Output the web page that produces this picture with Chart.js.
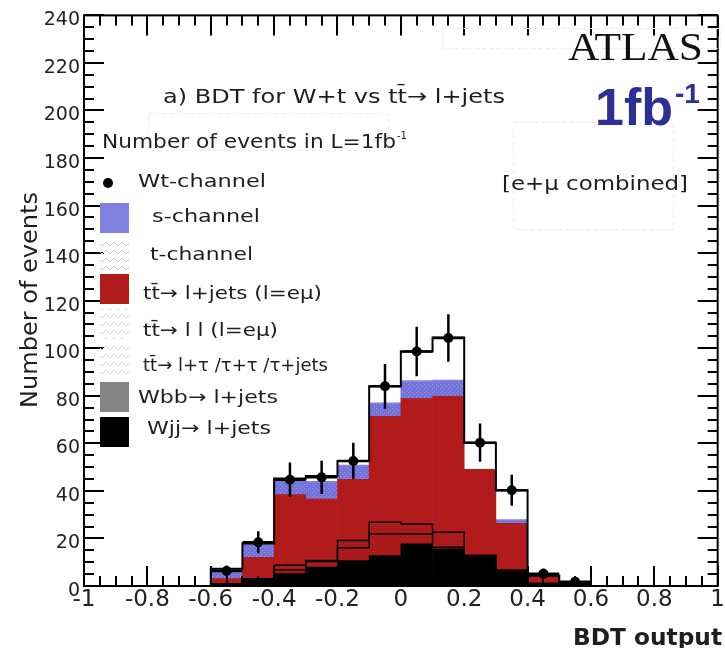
<!DOCTYPE html>
<html>
<head>
<meta charset="utf-8">
<script src="https://cdn.jsdelivr.net/npm/chart.js"></script>
<style>
body {
  margin: 0;
  background: #fff;
}
#wrap {
  width: 725px;
  height: 648px;
}
</style>
</head>
<body>

<div id="wrap"><canvas id="bdt" width="725" height="648"></canvas></div>

<script>

// ==========================
// data
// ==========================

const binEdges = [-0.6, -0.5, -0.4, -0.3, -0.2, -0.1, 0, 0.1, 0.2, 0.3, 0.4, 0.5, 0.6];
const binCenters = [-0.55, -0.45, -0.35, -0.25, -0.15, -0.05, 0.05, 0.15, 0.25, 0.35, 0.45, 0.55];

// stacked contributions per bin, bottom to top
const wjj = [0.8, 3.1, 5.2, 8.0, 10.7, 12.8, 17.7, 15.6, 12.8, 6.6, 1.0, 0.8];
const wbb = [0, 0, 0, 0, 0, 0, 0, 0, 0, 0, 0, 0];
const ttTau = [0, 0, 1.5, 2.3, 5.4, 9.1, 4.2, 0.7, 0, 0, 0, 0];
const ttDilep = [0, 0, 2.0, 0.4, 3.0, 4.9, 4.2, 6.3, 0, 0, 0, 0];
const ttLjets = [2.3, 9.0, 29.7, 25.9, 25.8, 44.6, 52.7, 57.2, 36.3, 19.8, 3.0, 0];
const tChan = [3.5, 5.0, 5.8, 6.7, 5.4, 5.0, 6.9, 6.1, 0, 1.0, 0, 0];
const sChan = [0.4, 0.6, 0.7, 0.7, 0.6, 0.6, 0.7, 0.7, 0, 0.5, 0, 0];
const wtSignal = [0.3, 0.2, 0.3, 2.3, 1.7, 7.0, 12.2, 17.9, 11.2, 12.4, 0.3, 0.2];

// points with error bars
const pseudoData = [6.3, 18.4, 44.7, 45.7, 52.6, 84.0, 98.6, 104.3, 60.3, 40.3, 5.2, 1.8];
const pseudoErr = [2.3, 4.6, 7.2, 7.0, 7.6, 9.4, 10.4, 10.0, 8.0, 6.5, 2.2, 1.3];

const legendLabels = [
  "Wt-channel",
  "s-channel",
  "t-channel",
  "tt\u0304\u2192 l+jets (l=e\u03bc)",
  "tt\u0304\u2192 l l (l=e\u03bc)",
  "tt\u0304\u2192 l+\u03c4 /\u03c4+\u03c4 /\u03c4+jets",
  "Wbb\u2192 l+jets",
  "Wjj\u2192 l+jets"
];


// ==========================
// fills
// ==========================

const RED = "#b21b1b";
const BLUE = "#8282e2";
const TEXT = "#1e1e1e";

function makePattern(size, bg, fg, cells) {

  const c = document.createElement("canvas");
  c.width = size;
  c.height = size;

  const g = c.getContext("2d");

  if (bg) {
    g.fillStyle = bg;
    g.fillRect(0, 0, size, size);
  }

  g.fillStyle = fg;
  cells.forEach(([px, py]) => g.fillRect(px, py, 1, 1));

  return g.createPattern(c, "repeat");

}

const redHatch = makePattern(4, RED, "#7e1313", [[0, 0], [2, 2]]);
const redHatch2 = makePattern(4, RED, "#861414", [[1, 0], [3, 2]]);
const blueHatch = makePattern(4, "#7272d8", "#9696ec", [[0, 0], [2, 2]]);

const waveCells = [[0, 3], [1, 2], [2, 2], [3, 3], [4, 4], [5, 5], [6, 5], [7, 4]];
const legendWave = makePattern(8, null, "#d2d2d2", waveCells);
const legendWaveBlue = makePattern(8, null, "#c9c9e4", waveCells);


// ==========================
// helpers
// ==========================

function barPoints(values) {
  return binCenters.map((c, i) => ({ x: c, y: values[i] }));
}

function cumulate(...layers) {
  return binCenters.map((_, i) => layers.reduce((s, l) => s + l[i], 0));
}

// histogram contour at bin edges
function stepPoints(levels) {

  const pts = [{ x: binEdges[0], y: 0 }];

  levels.forEach((v, i) => pts.push({ x: binEdges[i], y: v }));

  pts.push({ x: binEdges[binEdges.length - 1], y: 0 });

  return pts;

}

function fitText(ctx, text, x, y, font, width) {

  ctx.save();
  ctx.font = font;

  const k = width / ctx.measureText(text).width;

  ctx.translate(x, y);
  ctx.scale(k, 1);
  ctx.fillText(text, 0, 0);
  ctx.restore();

}

const tauTop = cumulate(wjj, wbb, ttTau);
const dilepTop = cumulate(wjj, wbb, ttTau, ttDilep);
const totalTop = cumulate(wjj, wbb, ttTau, ttDilep, ttLjets, tChan, sChan, wtSignal);


// ==========================
// plugins
// ==========================

const errorBars = {

  id: "errorBars",

  afterDatasetsDraw(chart) {

    const { ctx, scales: { x, y } } = chart;

    ctx.save();
    ctx.strokeStyle = "#000";
    ctx.lineWidth = 2.5;

    binCenters.forEach((c, i) => {

      const px = x.getPixelForValue(c);
      const py = y.getPixelForValue(pseudoData[i]);

      ctx.beginPath();
      ctx.moveTo(px, y.getPixelForValue(pseudoData[i] - pseudoErr[i]));
      ctx.lineTo(px, y.getPixelForValue(pseudoData[i] + pseudoErr[i]));
      ctx.moveTo(x.getPixelForValue(binEdges[i]), py);
      ctx.lineTo(x.getPixelForValue(binEdges[i + 1]), py);
      ctx.stroke();

    });

    ctx.restore();

  }

};

const frameTicks = {

  id: "frameTicks",

  afterDraw(chart) {

    const { ctx, chartArea: a, scales: { x, y } } = chart;

    ctx.save();
    ctx.strokeStyle = "#000";
    ctx.lineWidth = 2;
    ctx.strokeRect(a.left, a.top, a.right - a.left, a.bottom - a.top);

    ctx.beginPath();

    for (let v = 0; v <= 240; v += 5) {
      const py = Math.round(y.getPixelForValue(v));
      const len = v % 20 === 0 ? 20 : 10;
      ctx.moveTo(a.left, py);
      ctx.lineTo(a.left + len, py);
      ctx.moveTo(a.right, py);
      ctx.lineTo(a.right - len, py);
    }

    for (let i = 0; i <= 40; i++) {
      const px = Math.round(x.getPixelForValue(-1 + i * 0.05));
      const len = i % 4 === 0 ? 20 : 10;
      ctx.moveTo(px, a.bottom);
      ctx.lineTo(px, a.bottom - len);
      ctx.moveTo(px, a.top);
      ctx.lineTo(px, a.top + len);
    }

    ctx.stroke();
    ctx.restore();

  }

};

const annotations = {

  id: "annotations",

  afterDraw(chart) {

    const ctx = chart.ctx;

    ctx.save();

    // faint boxes of the original pads
    ctx.strokeStyle = "#ececec";
    ctx.lineWidth = 1;
    ctx.setLineDash([4, 3]);
    ctx.strokeRect(442.5, 28.5, 278, 20);
    ctx.strokeRect(148.5, 113.5, 240, 37);
    ctx.strokeRect(513.5, 122.5, 160, 107);
    ctx.setLineDash([]);

    ctx.fillStyle = TEXT;
    ctx.textAlign = "left";
    ctx.textBaseline = "alphabetic";

    fitText(ctx, "a) BDT for W+t vs tt\u0304\u2192 l+jets", 163, 103, '20px "DejaVu Sans"', 342);

    fitText(ctx, "Number of events in L=1fb", 102, 148, '19px "DejaVu Sans"', 294);
    fitText(ctx, "-1", 397, 139, '11px "DejaVu Sans"', 10);

    fitText(ctx, "[e+\u03bc combined]", 502, 190, '19px "DejaVu Sans"', 186);

    ctx.fillStyle = "#111";
    fitText(ctx, "ATLAS", 568, 60, '40px "Liberation Serif"', 135);

    ctx.fillStyle = "#2c3094";
    fitText(ctx, "1fb", 595, 125, 'bold 52px "Liberation Sans"', 78);
    fitText(ctx, "-1", 675, 103, 'bold 28px "Liberation Sans"', 25);

    // axis titles
    ctx.fillStyle = TEXT;
    fitText(ctx, "BDT output", 573, 645, 'bold 23px "DejaVu Sans"', 149);

    ctx.save();
    ctx.translate(37, 408);
    ctx.rotate(-Math.PI / 2);
    fitText(ctx, "Number of events", 0, 0, '23px "DejaVu Sans"', 216);
    ctx.restore();

    // legend
    const rowBase = [187, 222, 260, 299, 336, 371, 403, 434];
    const rowText = [138, 152, 150, 143, 143, 143, 138, 147];
    const rowWidth = [128, 108, 103, 179, 135, 185, 140, 124];
    const boxTop = [0, 203, 240, 274, 309, 346, 382, 417];
    const boxFill = [null, BLUE, legendWaveBlue, RED, legendWave, legendWave, "#858585", "#000"];

    legendLabels.forEach((label, i) => {

      if (i === 0) {
        ctx.fillStyle = "#000";
        ctx.beginPath();
        ctx.arc(108, 183, 5, 0, Math.PI * 2);
        ctx.fill();
      } else {
        ctx.fillStyle = boxFill[i];
        ctx.fillRect(100, boxTop[i], 29, 30);
      }

      ctx.fillStyle = TEXT;
      fitText(ctx, label, rowText[i], rowBase[i], '18px "DejaVu Sans"', rowWidth[i]);

    });

    ctx.restore();

  }

};


// ==========================
// chart
// ==========================

function barSet(label, values, color, extra) {
  return Object.assign({
    type: "bar",
    label: label,
    data: barPoints(values),
    backgroundColor: color,
    borderWidth: 0,
    barPercentage: 1,
    categoryPercentage: 1,
    order: 2
  }, extra || {});
}

function outlineSet(label, levels, width) {
  return {
    type: "line",
    label: label,
    data: stepPoints(levels),
    stepped: true,
    borderColor: "#000",
    borderWidth: width,
    pointRadius: 0,
    fill: false,
    stack: label,
    order: 1
  };
}

new Chart(document.getElementById("bdt"), {

  data: {
    datasets: [
      barSet("Wjj", wjj, "#000"),
      barSet("Wbb", wbb, "#858585", { inflateAmount: 0 }),
      barSet("ttTau", ttTau, redHatch),
      barSet("ttDilep", ttDilep, redHatch2),
      barSet("ttLjets", ttLjets, RED),
      barSet("tChan", tChan, blueHatch),
      barSet("sChan", sChan, BLUE),
      barSet("Wt", wtSignal, "#fff"),
      outlineSet("tauTop", tauTop, 1.5),
      outlineSet("dilepTop", dilepTop, 1.5),
      outlineSet("totalTop", totalTop, 2),
      {
        type: "line",
        label: "Wt-channel",
        data: barPoints(pseudoData),
        showLine: false,
        pointRadius: 5,
        pointBackgroundColor: "#000",
        pointBorderWidth: 0,
        stack: "points",
        order: 0
      }
    ]
  },

  options: {
    responsive: false,
    devicePixelRatio: 1,
    animation: false,
    events: [],
    layout: {
      autoPadding: false,
      padding: { top: 13, right: 3, left: 0, bottom: 0 }
    },
    plugins: {
      legend: { display: false },
      tooltip: { enabled: false }
    },
    scales: {
      x: {
        type: "linear",
        stacked: true,
        min: -1,
        max: 1,
        offset: false,
        grid: { display: false, drawTicks: false },
        border: { display: false },
        ticks: {
          stepSize: 0.2,
          padding: 0,
          color: "#222",
          font: { family: "DejaVu Sans", size: 23 },
          maxRotation: 0,
          autoSkip: false,
          callback: v => String(Number(v.toFixed(1)))
        },
        afterFit: s => { s.height = 62; }
      },
      y: {
        stacked: true,
        min: 0,
        max: 240,
        grid: { display: false, drawTicks: false },
        border: { display: false },
        ticks: {
          stepSize: 20,
          padding: 4,
          labelOffset: 5,
          color: "#222",
          font: { family: "DejaVu Sans", size: 19 }
        },
        afterFit: s => { s.width = 84; }
      }
    }
  },

  plugins: [errorBars, frameTicks, annotations]

});

</script>

</body>
</html>
